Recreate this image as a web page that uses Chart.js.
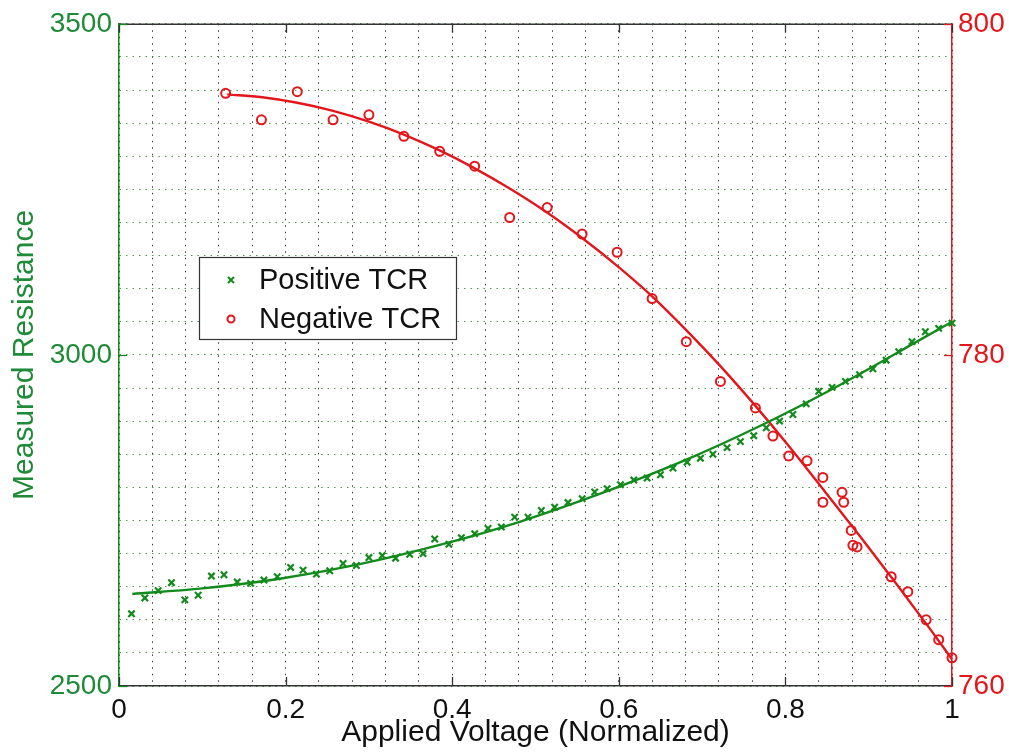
<!DOCTYPE html>
<html>
<head>
<meta charset="utf-8">
<script src="https://cdn.jsdelivr.net/npm/chart.js@4.4.1/dist/chart.umd.min.js"></script>
<style>
  html, body { margin: 0; padding: 0; background: #fff; }
  canvas { display: block; }
</style>
</head>
<body>
<canvas id="tcrChart" width="1009" height="755"></canvas>
<script>
// measured points
const posX = [0.015, 0.031, 0.047, 0.063, 0.079, 0.095, 0.111, 0.126, 0.142, 0.158, 0.174, 0.190, 0.206, 0.221, 0.237, 0.253,
  0.269, 0.285, 0.300, 0.316, 0.332, 0.349, 0.365, 0.379, 0.396, 0.411, 0.427, 0.443, 0.459, 0.475, 0.491, 0.507,
  0.523, 0.539, 0.556, 0.571, 0.586, 0.602, 0.618, 0.634, 0.650, 0.665, 0.682, 0.698, 0.713, 0.730, 0.746, 0.762,
  0.777, 0.793, 0.809, 0.825, 0.840, 0.856, 0.872, 0.889, 0.905, 0.921, 0.936, 0.952, 0.968, 0.984, 1.0];
const posY = [2609, 2633, 2644, 2656, 2630, 2637, 2666, 2668, 2657, 2655, 2660, 2665, 2679, 2675, 2669, 2674,
  2685, 2682, 2694, 2697, 2693, 2699, 2700, 2722, 2714, 2724, 2730, 2738, 2740, 2755, 2755, 2765,
  2770, 2777, 2783, 2793, 2798, 2804, 2811, 2814, 2819, 2829, 2838, 2844, 2850, 2860, 2869, 2878,
  2890, 2900, 2910, 2926, 2945, 2951, 2960, 2970, 2979, 2992, 3005, 3020, 3035, 3040, 3048];

const negX = [0.128, 0.171, 0.214, 0.257, 0.300, 0.342, 0.385, 0.427, 0.469, 0.514, 0.556, 0.598, 0.640, 0.681, 0.722, 0.764,
  0.785, 0.804, 0.826, 0.845, 0.845, 0.868, 0.870, 0.879, 0.881, 0.886, 0.927, 0.947, 0.969, 0.984, 1.0];
const negY = [795.8, 794.2, 795.9, 794.2, 794.5, 793.2, 792.3, 791.4, 788.3, 788.9, 787.3, 786.2, 783.4, 780.8, 778.4, 776.8,
  775.1, 773.9, 773.6, 772.6, 771.1, 771.7, 771.1, 769.4, 768.5, 768.4, 766.6, 765.7, 764.0, 762.8, 761.7];

// fitted curves
const posFitX = [0.016, 0.097, 0.193, 0.289, 0.385, 0.481, 0.577, 0.674, 0.770, 0.866, 0.962, 1.0];
const posFitY = [2639, 2647, 2662, 2684, 2713, 2748, 2790, 2838, 2893, 2955, 3023, 3050];
const negFitX = [0.130, 0.172, 0.214, 0.257, 0.300, 0.342, 0.385, 0.427, 0.469, 0.513, 0.556, 0.598, 0.640, 0.681, 0.722,
  0.764, 0.806, 0.848, 0.890, 0.932, 0.974, 1.0];
const negFitY = [795.74, 795.56, 795.23, 794.74, 794.09, 793.31, 792.35, 791.27, 790.05, 788.63, 787.06, 785.38, 783.54,
  781.50, 779.32, 776.92, 774.38, 771.71, 769.01, 766.25, 763.42, 761.62];

// labelled ticks
const xLabelTicks = [0, 0.2, 0.4, 0.6, 0.8, 1];
const leftLabelTicks = [2500, 3000, 3500];
const rightLabelTicks = [760, 780, 800];

const GREEN = "#138a1c";
const GREEN_TEXT = "#1f8a38";
const RED = "#e3161c";
const FONT = "'Liberation Sans', Arial, sans-serif";

function toPoints(xs, ys) {
  return xs.map((x, i) => ({ x: x, y: ys[i] }));
}

function labelFrom(list) {
  return function (v) {
    const hit = list.find((t) => Math.abs(t - v) < 1e-6);
    return hit === undefined ? "" : String(hit);
  };
}

// box around the plot + inward tick marks like matlab
const frameTicks = {
  id: "frameTicks",
  afterDatasetsDraw(chart) {
    const { ctx, chartArea: a, scales } = chart;
    ctx.save();
    ctx.lineWidth = 1.5;
    ctx.strokeStyle = "#333";
    ctx.beginPath();
    ctx.moveTo(a.left, a.top + 0.5);
    ctx.lineTo(a.right, a.top + 0.5);
    ctx.stroke();

    ctx.lineWidth = 1.3;
    xLabelTicks.forEach((v) => {
      const px = Math.round(scales.x.getPixelForValue(v)) + 0.5;
      ctx.beginPath();
      ctx.moveTo(px, a.top);
      ctx.lineTo(px, a.top + 9);
      ctx.moveTo(px, a.bottom);
      ctx.lineTo(px, a.bottom - 9);
      ctx.stroke();
    });

    ctx.strokeStyle = GREEN;
    leftLabelTicks.forEach((v) => {
      const py = Math.round(scales.y.getPixelForValue(v)) + 0.5;
      ctx.beginPath();
      ctx.moveTo(a.left, py);
      ctx.lineTo(a.left + 8, py);
      ctx.stroke();
    });
    ctx.strokeStyle = RED;
    rightLabelTicks.forEach((v) => {
      const py = Math.round(scales.y2.getPixelForValue(v)) + 0.5;
      ctx.beginPath();
      ctx.moveTo(a.right, py);
      ctx.lineTo(a.right - 8, py);
      ctx.stroke();
    });
    ctx.restore();
  },
};

// legend box inside the plot area
const boxLegend = {
  id: "boxLegend",
  afterDraw(chart) {
    const ctx = chart.ctx;
    const left = 199, top = 257, w = 257, h = 82;
    ctx.save();
    ctx.fillStyle = "#fff";
    ctx.fillRect(left, top, w, h);
    ctx.strokeStyle = "#333";
    ctx.lineWidth = 1.2;
    ctx.strokeRect(left + 0.5, top + 0.5, w, h);

    const rows = chart.data.datasets.filter((ds) => !ds.isFit);
    rows.forEach((ds, i) => {
      const cy = top + 23 + i * 39;
      const mx = left + 32;
      ctx.strokeStyle = ds.borderColor;
      ctx.lineWidth = 2;
      ctx.beginPath();
      if (ds.pointStyle === "crossRot") {
        ctx.moveTo(mx - 3, cy - 3);
        ctx.lineTo(mx + 3, cy + 3);
        ctx.moveTo(mx + 3, cy - 3);
        ctx.lineTo(mx - 3, cy + 3);
      } else {
        ctx.arc(mx, cy, 3.5, 0, Math.PI * 2);
      }
      ctx.stroke();

      ctx.fillStyle = "#111";
      ctx.font = "29px " + FONT;
      ctx.textBaseline = "middle";
      ctx.textAlign = "left";
      ctx.fillText(ds.label, left + 60, cy + 1);
    });
    ctx.restore();
  },
};

const ctx = document.getElementById("tcrChart");

const tcrChart = new Chart(ctx, {
  type: "scatter",
  data: {
    datasets: [
      {
        label: "Positive TCR",
        data: toPoints(posX, posY),
        yAxisID: "y",
        pointStyle: "crossRot",
        pointRadius: 4.5,
        pointBorderWidth: 2.2,
        borderColor: GREEN,
        backgroundColor: GREEN,
        clip: false,
      },
      {
        label: "Negative TCR",
        data: toPoints(negX, negY),
        yAxisID: "y2",
        pointStyle: "circle",
        pointRadius: 4.5,
        pointBorderWidth: 2,
        borderColor: RED,
        backgroundColor: "rgba(0,0,0,0)",
        clip: false,
      },
      {
        label: "Positive fit",
        isFit: true,
        data: toPoints(posFitX, posFitY),
        yAxisID: "y",
        showLine: true,
        pointRadius: 0,
        borderWidth: 2.4,
        borderColor: GREEN,
        cubicInterpolationMode: "monotone",
        clip: false,
      },
      {
        label: "Negative fit",
        isFit: true,
        data: toPoints(negFitX, negFitY),
        yAxisID: "y2",
        showLine: true,
        pointRadius: 0,
        borderWidth: 2.4,
        borderColor: RED,
        cubicInterpolationMode: "monotone",
        clip: false,
      },
    ],
  },
  options: {
    responsive: false,
    animation: false,
    events: [],
    layout: { padding: { top: 20, left: 0, right: 0, bottom: 0 } },
    plugins: {
      legend: { display: false },
      tooltip: { enabled: false },
    },
    scales: {
      x: {
        type: "linear",
        min: 0,
        max: 1,
        afterFit: (scale) => { scale.height = 69; },
        ticks: {
          stepSize: 0.04,
          maxTicksLimit: 30,
          autoSkip: false,
          maxRotation: 0,
          padding: 7,
          color: "#111",
          font: { family: FONT, size: 28 },
          callback: labelFrom(xLabelTicks),
        },
        grid: { color: "#3a3a3a", lineWidth: 1, drawTicks: false },
        border: { color: "#333", width: 1.5, dash: [1.5, 5] },
        title: {
          display: true,
          text: "Applied Voltage (Normalized)",
          color: "#111",
          font: { family: FONT, size: 30 },
          padding: { top: 0, bottom: 4 },
        },
      },
      y: {
        type: "linear",
        position: "left",
        min: 2500,
        max: 3500,
        afterFit: (scale) => { scale.width = 119; },
        ticks: {
          stepSize: 50,
          maxTicksLimit: 30,
          autoSkip: false,
          padding: 7,
          color: GREEN_TEXT,
          font: { family: FONT, size: 28 },
          callback: labelFrom(leftLabelTicks),
        },
        grid: { color: "rgba(40,125,40,0.8)", lineWidth: 1, drawTicks: false },
        border: { color: GREEN, width: 1.5, dash: [1.5, 5] },
        title: {
          display: true,
          text: "Measured Resistance",
          color: GREEN_TEXT,
          font: { family: FONT, size: 30 },
          padding: { top: 7, bottom: 0 },
        },
      },
      y2: {
        type: "linear",
        position: "right",
        min: 760,
        max: 800,
        afterFit: (scale) => { scale.width = 57; },
        ticks: {
          stepSize: 2,
          maxTicksLimit: 30,
          autoSkip: false,
          padding: 6,
          color: RED,
          font: { family: FONT, size: 28 },
          callback: labelFrom(rightLabelTicks),
        },
        grid: { drawOnChartArea: false, drawTicks: false },
        border: { color: RED, width: 1.5 },
      },
    },
  },
  plugins: [frameTicks, boxLegend],
});
</script>
</body>
</html>
